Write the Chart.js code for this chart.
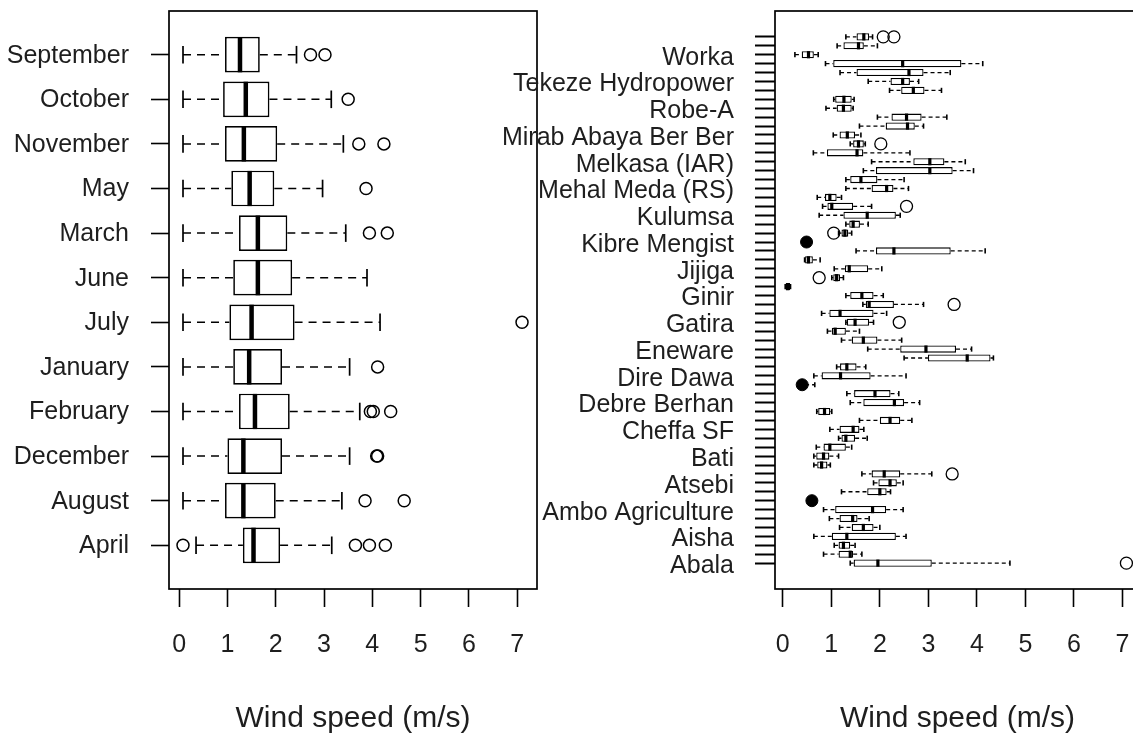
<!DOCTYPE html>
<html>
<head>
<meta charset="utf-8">
<title>Wind speed boxplots</title>
<script src="https://cdn.jsdelivr.net/npm/chart.js@4.4.1/dist/chart.umd.min.js"></script>
<style>
  html, body { margin: 0; padding: 0; background: #fff; overflow: hidden; }
  body { width: 1133px; height: 734px; position: relative; }
  #monthBox { position: absolute; left: 0; top: 0; width: 540px; height: 734px; }
  #stationBox { position: absolute; left: 440px; top: 0; width: 702px; height: 734px; }
</style>
</head>
<body>
<canvas id="monthBox" width="540" height="734"></canvas>
<canvas id="stationBox" width="702" height="734"></canvas>
<script>
//---------------------------- data: months (rows from the bottom) ----------------------------
const months = ['April', 'August', 'December', 'February', 'January', 'July',
                'June', 'March', 'May', 'November', 'October', 'September'];
const monthLow  = [0.35, 0.08, 0.08, 0.08, 0.08, 0.08, 0.08, 0.08, 0.08, 0.08, 0.08, 0.08];
const monthQ1   = [1.32, 0.95, 1.00, 1.24, 1.12, 1.04, 1.12, 1.24, 1.08, 0.95, 0.91, 0.95];
const monthMed  = [1.54, 1.33, 1.33, 1.57, 1.45, 1.50, 1.63, 1.63, 1.46, 1.34, 1.38, 1.26];
const monthQ3   = [2.09, 2.00, 2.13, 2.29, 2.13, 2.39, 2.34, 2.24, 1.97, 2.03, 1.87, 1.67];
const monthHigh = [3.16, 3.37, 3.53, 3.74, 3.53, 4.16, 3.89, 3.45, 2.97, 3.40, 3.15, 2.43];
const monthOutRows = [1, 1, 1, 1, 2, 2, 3, 3, 4, 4, 4, 5, 6, 8, 8, 9, 10, 10, 11, 12, 12];
const monthOutVals = [0.08, 3.65, 3.94, 4.27, 3.85, 4.66, 4.09, 4.11, 3.96, 4.02, 4.38, 4.11,
                      7.10, 3.94, 4.31, 3.87, 3.72, 4.24, 3.50, 2.72, 3.02];

//---------------------------- data: stations (60 rows, labelled every third) ----------------------------
const stationNames = ['Abala', 'Aisha', 'Ambo Agriculture', 'Atsebi', 'Bati', 'Cheffa SF',
                      'Debre Berhan', 'Dire Dawa', 'Eneware', 'Gatira', 'Ginir', 'Jijiga',
                      'Kibre Mengist', 'Kulumsa', 'Mehal Meda (RS)', 'Melkasa (IAR)',
                      'Mirab Abaya Ber Ber', 'Robe-A', 'Tekeze Hydropower', 'Worka'];
const stationLow = [
  1.39, 0.84, 1.06, 0.64, 1.17, 0.96, 0.84, null, 1.21, 1.87,
  1.63, 0.64, 0.64, 0.69, 1.15, 0.97, 1.58, 0.70, 1.39, 1.32,
  0.33, 0.64, 1.11, 2.50, 1.75, 1.21, 0.92, 1.30, 0.80, 1.65,
  1.30, 0.05, 1.01, 1.06, 0.45, 1.51, null, 1.15, 1.30, 0.75,
  0.82, 0.71, 1.30, 1.30, 1.66, 1.83, 0.63, 1.39, 1.04, 1.58,
  1.95, 0.89, 1.05, 2.20, 1.76, 1.18, 0.88, 0.25, 1.12, 1.30];
const stationQ1 = [
  1.46, 1.15, 1.15, 1.01, 1.42, 1.17, 1.08, null, 1.74, 1.97,
  1.83, 0.71, 0.69, 0.84, 1.21, 1.17, 2.00, 0.73, 1.66, 1.47,
  0.35, 0.80, 1.18, 2.99, 2.42, 1.42, 1.01, 1.32, 0.96, 1.71,
  1.39, 0.06, 1.04, 1.28, 0.46, 1.92, null, 1.21, 1.37, 1.25,
  0.92, 0.87, 1.83, 1.39, 1.92, 2.69, 0.91, 1.45, 1.17, 2.12,
  2.24, 1.11, 1.08, 2.44, 2.22, 1.52, 1.04, 0.39, 1.25, 1.52];
const stationMed = [
  1.96, 1.39, 1.25, 1.32, 1.66, 1.44, 1.85, null, 2.00, 2.21,
  2.09, 0.80, 0.84, 0.97, 1.30, 1.45, 2.21, 0.86, 2.30, 1.90,
  0.40, 1.19, 1.32, 3.80, 2.95, 1.66, 1.08, 1.49, 1.18, 1.78,
  1.63, 0.10, 1.11, 1.37, 0.53, 2.29, null, 1.28, 1.45, 1.74,
  1.01, 0.97, 2.14, 1.61, 3.03, 3.03, 1.53, 1.56, 1.33, 2.57,
  2.55, 1.25, 1.26, 2.69, 2.47, 2.60, 2.47, 0.53, 1.56, 1.67];
const stationQ3 = [
  3.07, 1.45, 1.39, 2.33, 1.87, 1.54, 2.13, null, 2.14, 2.35,
  2.42, 0.92, 0.96, 1.30, 1.49, 1.58, 2.42, 0.98, 2.50, 2.22,
  0.46, 1.81, 1.52, 4.28, 3.57, 1.95, 1.30, 1.78, 1.87, 2.29,
  1.87, 0.15, 1.18, 1.76, 0.62, 3.46, null, 1.35, 1.59, 2.33,
  1.45, 1.11, 2.28, 1.95, 3.50, 3.33, 1.66, 1.67, 1.49, 2.72,
  2.86, 1.42, 1.42, 2.92, 2.62, 2.90, 3.68, 0.64, 1.67, 1.78];
const stationHigh = [
  4.68, 1.63, 1.49, 2.54, 2.00, 1.78, 2.48, null, 2.22, 2.48,
  3.07, 0.98, 1.15, 1.42, 1.74, 1.67, 2.66, 1.01, 2.82, 2.39,
  0.66, 2.54, 1.71, 4.34, 3.89, 2.45, 1.58, 1.87, 2.14, 2.90,
  2.07, 0.16, 1.25, 2.04, 0.77, 4.17, null, 1.42, 1.76, 2.42,
  1.83, 1.21, 2.59, 2.50, 3.93, 3.76, 2.62, 1.70, 1.61, 2.90,
  3.38, 1.45, 1.47, 3.27, 2.80, 3.45, 4.12, 0.73, 1.95, 1.85];
const stationOutRows = [1, 11, 28, 30, 33, 38, 41, 48, 60, 60];
const stationOutVals = [7.08, 3.49, 2.40, 3.53, 0.75, 1.05, 2.55, 2.02, 2.07, 2.29];
const stationDotRows = [8, 21, 37];
const stationDotVals = [0.60, 0.40, 0.49];

const speedTicks = [0, 1, 2, 3, 4, 5, 6, 7];
const xTitle = 'Wind speed (m/s)';

//---------------------------- helpers ----------------------------
const fontFamily = "'Liberation Sans', Arial, sans-serif";
const textColor = '#1e1e1e';

const framePlugin = {
    id: 'frame',
    afterDatasetsDraw(chart) {
        const { ctx, chartArea: a } = chart;
        ctx.save();
        ctx.strokeStyle = '#000';
        ctx.lineWidth = 1.7;
        ctx.strokeRect(a.left, a.top, a.right - a.left, a.bottom - a.top);
        ctx.restore();
    }
};

// no extra room for the edge labels: the plot frame keeps its own size
function noPadding(axis) {
    axis.paddingTop = 0;
    axis.paddingBottom = 0;
    axis.paddingLeft = 0;
    axis.paddingRight = 0;
}

function boxDatasets(lo, q1, med, q3, hi, outRows, outVals, dotRows, dotVals, s) {
    const boxes = [], meds = [], caps = [], whiskers = [];
    lo.forEach((v, i) => {
        if (v === null) return;
        const r = i + 1;
        boxes.push({ x: [q1[i], q3[i]], y: r });
        meds.push({ x: med[i], y: r });
        caps.push({ x: lo[i], y: r }, { x: hi[i], y: r });
        whiskers.push({ x: lo[i], y: r }, { x: q1[i], y: r }, { x: null, y: r },
                      { x: q3[i], y: r }, { x: hi[i], y: r }, { x: null, y: r });
    });
    const outliers = outRows.map((r, i) => ({ x: outVals[i], y: r }));
    const dots = dotRows.map((r, i) => ({ x: dotVals[i], y: r }));
    return [
        {
            type: 'line', data: whiskers, borderColor: '#000', borderWidth: s.line,
            borderDash: s.dash, pointRadius: 0, pointHitRadius: 0, spanGaps: false,
            fill: false, tension: 0, order: 6
        },
        {
            type: 'bar', data: boxes, backgroundColor: '#fff', borderColor: '#000',
            borderWidth: s.box, borderSkipped: false, grouped: false,
            categoryPercentage: 1, barPercentage: 0.8, order: 5
        },
        {
            type: 'scatter', data: caps, pointStyle: 'line', pointRotation: 90,
            pointRadius: s.cap, pointBorderWidth: s.capW, pointBorderColor: '#000', order: 4
        },
        {
            type: 'scatter', data: meds, pointStyle: 'line', pointRotation: 90,
            pointRadius: s.med, pointBorderWidth: s.medW, pointBorderColor: '#000', order: 3
        },
        {
            type: 'scatter', data: outliers, pointStyle: 'circle', pointRadius: s.out,
            pointBorderWidth: s.line, pointBorderColor: '#000',
            pointBackgroundColor: 'rgba(0,0,0,0)', order: 2
        },
        {
            type: 'scatter', data: dots, pointStyle: 'circle', pointRadius: s.out,
            pointBorderWidth: 1, pointBorderColor: '#000', pointBackgroundColor: '#000', order: 1
        }
    ];
}

function makeChart(id, datasets, cfg) {
    return new Chart(document.getElementById(id), {
        type: 'bar',
        data: { datasets: datasets },
        options: {
            indexAxis: 'y',
            responsive: false,
            animation: false,
            events: [],
            layout: {
                autoPadding: false,
                padding: { top: 11, right: cfg.padRight, left: 0, bottom: 0 }
            },
            plugins: { legend: { display: false }, tooltip: { enabled: false } },
            scales: {
                x: {
                    type: 'linear', position: 'bottom', min: cfg.xMin, max: cfg.xMax, bounds: 'data',
                    offset: false,
                    afterBuildTicks: (axis) => { axis.ticks = speedTicks.map(v => ({ value: v })); },
                    afterFit: (axis) => { axis.height = 145; noPadding(axis); },
                    ticks: {
                        autoSkip: false, maxRotation: 0, padding: 23, color: textColor,
                        font: { family: fontFamily, size: 25 },
                        callback: (v) => String(v)
                    },
                    grid: {
                        display: true, offset: false, drawOnChartArea: false, drawTicks: true,
                        tickLength: 18, tickColor: '#000', tickWidth: 1.6
                    },
                    border: { display: false },
                    title: {
                        display: true, text: xTitle, color: textColor,
                        font: { family: fontFamily, size: 30, lineHeight: 1 },
                        padding: { top: 0, bottom: 0 }
                    }
                },
                y: {
                    type: 'linear', position: 'left', min: cfg.yMin, max: cfg.yMax, bounds: 'data',
                    offset: false,
                    afterBuildTicks: (axis) => { axis.ticks = cfg.rows.map(v => ({ value: v })); },
                    afterFit: (axis) => { axis.width = cfg.axisWidth; noPadding(axis); },
                    ticks: {
                        autoSkip: false, padding: cfg.labelPad, labelOffset: cfg.labelShift,
                        color: textColor, font: { family: fontFamily, size: 25 },
                        callback: cfg.label
                    },
                    grid: {
                        display: true, offset: false, drawOnChartArea: false, drawTicks: true,
                        tickLength: cfg.tickLen, tickColor: '#000', tickWidth: cfg.tickW
                    },
                    border: { display: false }
                }
            }
        },
        plugins: [framePlugin]
    });
}

//---------------------------- chart 1: months ----------------------------
const monthRows = months.map((m, i) => i + 1);
makeChart('monthBox',
    boxDatasets(monthLow, monthQ1, monthMed, monthQ3, monthHigh,
                monthOutRows, monthOutVals, [], [],
                { line: 1.5, dash: [8, 6], box: 1.7, cap: 8.8, capW: 1.7, med: 17.6, medW: 4.5, out: 6 }),
    {
        xMin: -0.21, xMax: 7.41, yMin: 0.02, yMax: 12.98, rows: monthRows,
        axisWidth: 169, padRight: 3, labelPad: 22, labelShift: 1, tickLen: 18, tickW: 1.6,
        label: (v) => months[v - 1]
    });

//---------------------------- chart 2: stations ----------------------------
const stationRows = stationLow.map((v, i) => i + 1);
makeChart('stationBox',
    boxDatasets(stationLow, stationQ1, stationMed, stationQ3, stationHigh,
                stationOutRows, stationOutVals, stationDotRows, stationDotVals,
                { line: 1.3, dash: [4, 3], box: 1.3, cap: 2.6, capW: 1.6, med: 3.6, medW: 3.2, out: 6 }),
    {
        xMin: -0.16, xMax: 7.36, yMin: -1.9, yMax: 62.9, rows: stationRows,
        axisWidth: 335, padRight: 2, labelPad: 21, labelShift: 3, tickLen: 20, tickW: 2,
        label: (v) => ((v - 1) % 3 === 0 ? stationNames[(v - 1) / 3] : '')
    });
</script>
</body>
</html>
